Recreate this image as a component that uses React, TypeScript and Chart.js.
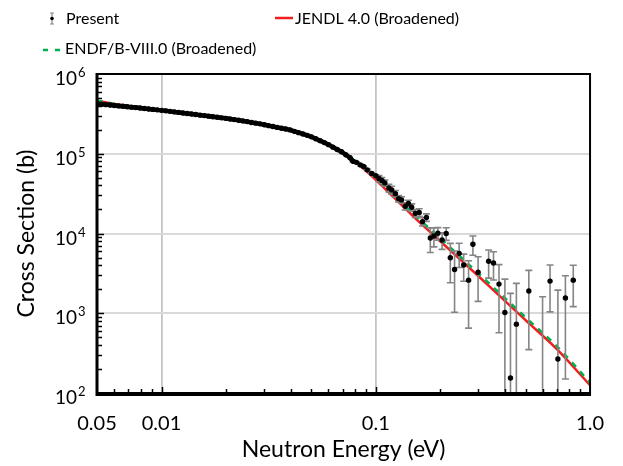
import { useEffect, useRef } from "react";
import { Chart, registerables } from "chart.js";

Chart.register(...registerables);

// Measured capture cross section (present work): energy (eV), value (b), 1-sigma uncertainty (b)
const presentEnergy = [
  0.00501, 0.00525, 0.0055, 0.00575, 0.00603, 0.00631, 0.00661, 0.00692, 0.00724, 0.00759,
  0.00794, 0.00832, 0.00871, 0.00912, 0.00955, 0.01, 0.01047, 0.01096, 0.01148, 0.01202,
  0.01259, 0.01318, 0.0138, 0.01445, 0.01514, 0.01585, 0.0166, 0.01738, 0.0182, 0.01905,
  0.01995, 0.02089, 0.02188, 0.02291, 0.02399, 0.02512, 0.0263, 0.02754, 0.02884, 0.0302,
  0.03162, 0.03311, 0.03467, 0.03631, 0.03802, 0.03981, 0.04169, 0.04365, 0.04571, 0.04786,
  0.05012, 0.05248, 0.05495, 0.05754, 0.06026, 0.0631, 0.06607, 0.06918, 0.07244, 0.07586,
  0.07832, 0.08124, 0.08475, 0.08774, 0.09124, 0.09567, 0.1, 0.1035, 0.1069, 0.1103,
  0.1151, 0.1187, 0.1235, 0.1278, 0.1319, 0.1372, 0.142, 0.1471, 0.1529, 0.1595,
  0.1652, 0.1723, 0.1797, 0.1868, 0.1949, 0.204, 0.2132, 0.2228, 0.2332, 0.245,
  0.2572, 0.2711, 0.284, 0.3003, 0.3363, 0.3544, 0.3759, 0.4005, 0.4253, 0.4531,
  0.518, 0.6004, 0.6506, 0.7078, 0.7675, 0.835,
];
const presentSigma = [
  424000, 418000, 413000, 408000, 403000, 398000, 394000, 389000, 384000, 379000,
  374000, 369000, 364000, 360000, 355000, 350000, 345000, 340000, 335000, 330000,
  325000, 320000, 315000, 310000, 305000, 301000, 296000, 291000, 287000, 282000,
  278000, 273000, 268000, 263000, 258000, 253000, 247000, 242000, 237000, 231000,
  225000, 220000, 214000, 209000, 204000, 199000, 191000, 184000, 177000, 170000,
  163000, 154000, 146000, 138000, 130000, 121000, 113000, 106000, 97200, 89000,
  80300, 78000, 72500, 69400, 62800, 56700, 53200, 49100, 46300, 43100,
  37300, 35200, 31600, 27400, 26400, 22000, 23800, 21300, 17900, 18400,
  14100, 15900, 8780, 9300, 10060, 8280, 10000, 4970, 3530, 5640,
  4020, 2600, 7320, 3260, 4480, 4260, 2320, 1020, 154, 730,
  1900, 10, 2530, 267, 1550, 2600,
];
const presentError = [
  0, 0, 0, 0, 0, 0, 0, 0, 0, 0,
  0, 0, 0, 0, 0, 0, 0, 0, 0, 0,
  0, 0, 0, 0, 0, 0, 0, 0, 0, 0,
  0, 0, 0, 0, 0, 0, 0, 0, 0, 0,
  0, 0, 0, 0, 0, 0, 0, 0, 0, 0,
  0, 0, 0, 0, 0, 0, 0, 0, 0, 0,
  1500, 1500, 1500, 1400, 1300, 1300, 1300, 4000, 4000, 3800,
  4000, 4000, 3000, 2500, 2500, 2300, 2300, 2200, 2000, 2000,
  1700, 1700, 3000, 2500, 1800, 1960, 1800, 2560, 2500, 1900,
  1500, 1950, 1980, 1850, 1720, 1650, 1750, 1660, 1620, 1640,
  1550, 1600, 1490, 1680, 1400, 1390,
];
// the densely sampled low-energy part is drawn as a continuous band up to this index
const denseLastIndex = 61;

// Evaluated data, Doppler broadened
const jendlEnergy = [0.005, 0.006, 0.008, 0.01, 0.015, 0.02, 0.025, 0.03, 0.04, 0.05, 0.06, 0.07, 0.08, 0.09, 0.1, 0.15, 0.2, 0.3, 0.5, 0.7, 1.0];
const jendlSigma = [462000, 422000, 378000, 352000, 309000, 278000, 254000, 232000, 199000, 163000, 130000, 104000, 80000, 61000, 47000, 16300, 8000, 2950, 820, 355, 125];
const endfEnergy = [0.005, 0.006, 0.008, 0.01, 0.015, 0.02, 0.025, 0.03, 0.04, 0.05, 0.06, 0.07, 0.08, 0.09, 0.1, 0.15, 0.2, 0.3, 0.5, 0.7, 1.0];
const endfSigma = [462000, 422000, 378000, 352000, 309000, 278000, 254000, 232000, 199000, 163000, 131000, 105000, 81500, 63000, 49500, 17500, 8700, 3200, 890, 385, 135];

// Axis ticks
const xTickValues = [0.005, 0.01, 0.1, 1];
const xTickLabels = ["0.05", "0.01", "0.1", "1.0"];
const yTickValues = [1e2, 1e3, 1e4, 1e5, 1e6];
const yTickExponents = ["2", "3", "4", "5", "6"];

const FONT = "Lato, 'Open Sans', 'DejaVu Sans', sans-serif";
const RED = "#f01e1e";
const GREEN = "#00b050";
const ERR_GRAY = "#858585";

const decorPlugin = {
  id: "decor",
  beforeDatasetDraw(chart: any, args: any) {
    const ds = chart.data.datasets[args.index];
    if (ds.label !== "Present") return;
    const { ctx, chartArea: a } = chart;
    const x = chart.scales.x;
    const y = chart.scales.y;
    ctx.save();
    ctx.beginPath();
    ctx.rect(a.left, a.top, a.right - a.left, a.bottom - a.top);
    ctx.clip();
    ctx.strokeStyle = ERR_GRAY;
    ctx.lineWidth = 1.6;
    presentEnergy.forEach((e, i) => {
      const err = presentError[i];
      if (!err) return;
      const px = x.getPixelForValue(e);
      const hi = presentSigma[i] + err;
      const lo = presentSigma[i] - err;
      const yHi = y.getPixelForValue(hi);
      const yLo = lo > 0 ? y.getPixelForValue(lo) : a.bottom + 10;
      ctx.beginPath();
      ctx.moveTo(px, yHi);
      ctx.lineTo(px, yLo);
      ctx.moveTo(px - 3.5, yHi);
      ctx.lineTo(px + 3.5, yHi);
      if (lo > 0) {
        ctx.moveTo(px - 3.5, yLo);
        ctx.lineTo(px + 3.5, yLo);
      }
      ctx.stroke();
    });
    ctx.restore();
  },
  afterDraw(chart: any) {
    const { ctx, chartArea: a } = chart;
    const x = chart.scales.x;
    const y = chart.scales.y;
    ctx.save();

    // minor / major tick marks on the inside of the bottom and left axes
    ctx.strokeStyle = "#000";
    ctx.lineWidth = 1.5;
    for (let dec = -3; dec <= -1; dec++) {
      for (let m = 1; m <= 9; m++) {
        const v = m * Math.pow(10, dec);
        if (v <= 0.005 || v >= 1) continue;
        const px = Math.round(x.getPixelForValue(v)) + 0.5;
        const len = m === 1 ? 6 : 4;
        ctx.beginPath();
        ctx.moveTo(px, a.bottom);
        ctx.lineTo(px, a.bottom - len);
        ctx.stroke();
      }
    }
    for (let dec = 2; dec <= 5; dec++) {
      for (let m = 1; m <= 9; m++) {
        const v = m * Math.pow(10, dec);
        if (v <= 100) continue;
        const py = Math.round(y.getPixelForValue(v)) + 0.5;
        const len = m === 1 ? 7 : 5;
        ctx.beginPath();
        ctx.moveTo(a.left, py);
        ctx.lineTo(a.left + len, py);
        ctx.stroke();
      }
    }

    // plot frame
    ctx.strokeStyle = "#000";
    ctx.lineWidth = 2;
    ctx.strokeRect(a.left, a.top, a.right - a.left, a.bottom - a.top);
    ctx.lineWidth = 3;
    ctx.beginPath();
    ctx.moveTo(a.left, a.top - 1);
    ctx.lineTo(a.left, a.bottom + 1.5);
    ctx.lineTo(a.right + 1, a.bottom + 1.5);
    ctx.stroke();

    // y tick labels as powers of ten
    ctx.fillStyle = "#000";
    yTickValues.forEach((v, i) => {
      const py = y.getPixelForValue(v);
      ctx.font = `19px ${FONT}`;
      ctx.textAlign = "right";
      ctx.textBaseline = "middle";
      ctx.fillText("10", 77, py + 5);
      ctx.font = `13px ${FONT}`;
      ctx.textAlign = "left";
      ctx.fillText(yTickExponents[i], 78, py - 1);
    });

    // legend
    const labels = chart.data.datasets.map((d: any) => d.label);
    ctx.textAlign = "left";
    ctx.textBaseline = "middle";
    ctx.font = `16px ${FONT}`;
    // Present: point with error bar
    ctx.strokeStyle = ERR_GRAY;
    ctx.lineWidth = 1.2;
    ctx.beginPath();
    ctx.moveTo(52, 13);
    ctx.lineTo(52, 24);
    ctx.moveTo(50, 13);
    ctx.lineTo(54, 13);
    ctx.moveTo(50, 24);
    ctx.lineTo(54, 24);
    ctx.stroke();
    ctx.fillStyle = "#000";
    ctx.beginPath();
    ctx.arc(52, 18.5, 1.8, 0, Math.PI * 2);
    ctx.fill();
    ctx.fillText(labels[0], 66, 19);
    // JENDL
    ctx.strokeStyle = RED;
    ctx.lineWidth = 2.5;
    ctx.beginPath();
    ctx.moveTo(275, 18);
    ctx.lineTo(293, 18);
    ctx.stroke();
    ctx.fillText(labels[2], 295, 19);
    // ENDF
    ctx.strokeStyle = GREEN;
    ctx.setLineDash([5, 7]);
    ctx.beginPath();
    ctx.moveTo(43, 50);
    ctx.lineTo(64, 50);
    ctx.stroke();
    ctx.setLineDash([]);
    ctx.fillText(labels[1], 65, 49);

    ctx.restore();
  },
};

export default function App() {
  const canvasRef = useRef<HTMLCanvasElement | null>(null);

  useEffect(() => {
    document.body.style.margin = "0";
    const canvas = canvasRef.current;
    if (!canvas) return;

    const chart = new Chart(canvas, {
      type: "scatter",
      data: {
        datasets: [
          {
            label: "Present",
            data: presentEnergy.map((e, i) => ({ x: e, y: presentSigma[i] })),
            showLine: true,
            borderColor: "#000",
            borderWidth: 4.5,
            segment: {
              borderColor: (c: any) => (c.p1DataIndex <= denseLastIndex ? "#000" : "rgba(0,0,0,0)"),
            },
            pointRadius: 2.7,
            pointBorderWidth: 0,
            pointBackgroundColor: "#000",
            pointBorderColor: "#000",
            order: 0,
          },
          {
            label: "ENDF/B-VIII.0 (Broadened)",
            data: endfEnergy.map((e, i) => ({ x: e, y: endfSigma[i] })),
            showLine: true,
            pointRadius: 0,
            borderColor: GREEN,
            borderWidth: 2.5,
            borderDash: [6, 6],
            cubicInterpolationMode: "monotone",
            order: 1,
          },
          {
            label: "JENDL 4.0 (Broadened)",
            data: jendlEnergy.map((e, i) => ({ x: e, y: jendlSigma[i] })),
            showLine: true,
            pointRadius: 0,
            borderColor: RED,
            borderWidth: 2.5,
            cubicInterpolationMode: "monotone",
            order: 2,
          },
        ],
      },
      options: {
        animation: false,
        responsive: false,
        maintainAspectRatio: false,
        events: [],
        layout: { padding: { top: 74, right: 23, left: 0, bottom: 0 } },
        plugins: {
          legend: { display: false },
          tooltip: { enabled: false },
        },
        scales: {
          x: {
            type: "logarithmic",
            min: 0.005,
            max: 1,
            afterFit: (s: any) => {
              s.height = 73;
            },
            afterBuildTicks: (s: any) => {
              s.ticks = xTickValues.map((v) => ({ value: v }));
            },
            ticks: {
              callback: (_v: any, i: number) => xTickLabels[i],
              font: { family: FONT, size: 20 },
              color: "#000",
              padding: 19,
              maxRotation: 0,
              autoSkip: false,
            },
            grid: {
              color: (c: any) =>
                c.tick && (c.tick.value === 0.01 || c.tick.value === 0.1) ? "#c4c4c4" : "rgba(0,0,0,0)",
              lineWidth: 1.8,
              drawTicks: false,
            },
            border: { display: false },
            title: {
              display: true,
              text: "Neutron Energy (eV)",
              font: { family: FONT, size: 23 },
              color: "#000",
              padding: { top: 0, bottom: 3 },
            },
          },
          y: {
            type: "logarithmic",
            min: 100,
            max: 1e6,
            afterFit: (s: any) => {
              s.width = 97;
            },
            afterBuildTicks: (s: any) => {
              s.ticks = yTickValues.map((v) => ({ value: v }));
            },
            ticks: { display: false },
            grid: {
              color: (c: any) =>
                c.tick && c.tick.value > 100 && c.tick.value < 1e6 ? "#d9d9d9" : "rgba(0,0,0,0)",
              lineWidth: 2,
              drawTicks: false,
            },
            border: { display: false },
            title: {
              display: true,
              text: "Cross Section (b)",
              font: { family: FONT, size: 23 },
              color: "#000",
              padding: { top: 13, bottom: 0 },
            },
          },
        },
      },
      plugins: [decorPlugin],
    } as any);

    return () => chart.destroy();
  }, []);

  return <canvas ref={canvasRef} width={623} height={466} style={{ display: "block" }} />;
}
